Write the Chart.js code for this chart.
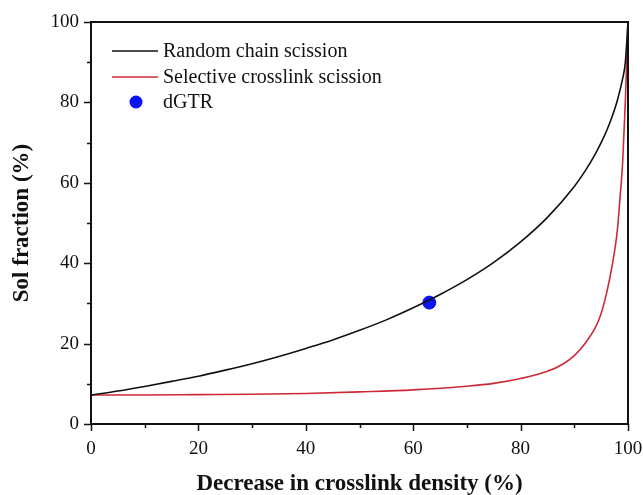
<!DOCTYPE html>
<html>
<head>
<meta charset="utf-8">
<script src="https://cdn.jsdelivr.net/npm/chart.js"></script>
<style>
  html, body { margin: 0; padding: 0; background: #fff; }
  #wrap { width: 643px; height: 495px; }
</style>
</head>
<body>
<div id="wrap"><canvas id="myChart" width="643" height="495"></canvas></div>
<script>
// values
const randomX = [0, 5, 10, 15, 20, 25, 30, 35, 40, 45, 50, 55, 60, 65, 70, 75, 80, 85, 90, 92, 94, 95, 96, 97, 98, 99, 99.5, 100]
const randomY = [7.2, 8.2, 9.35, 10.6, 11.9, 13.4, 15.0, 16.8, 18.8, 20.9, 23.3, 25.9, 28.9, 32.2, 35.9, 40.2, 45.3, 51.4, 59.1, 62.9, 67.4, 70.0, 72.9, 76.3, 80.4, 85.9, 89.9, 100]

const selectiveX = [0, 10, 20, 30, 40, 50, 60, 70, 75, 80, 85, 88, 90, 92, 94, 95, 96, 97, 98, 98.5, 99, 99.5, 100]
const selectiveY = [7.2, 7.2, 7.3, 7.4, 7.6, 8.0, 8.5, 9.4, 10.1, 11.3, 13.1, 15.0, 17.0, 20.0, 24.2, 27.5, 32.5, 39.0, 48.0, 56.0, 65.0, 80.0, 100]

const dgtrX = [63]
const dgtrY = [30.2]

const legendLabels = ["Random chain scission", "Selective crosslink scission", "dGTR"]
const xTitle = "Decrease in crosslink density (%)"
const yTitle = "Sol fraction (%)"

const BLACK = '#111111'
const RED = '#cc2a36'
const BLUE = '#0a14f0'
const FONT = "'Liberation Serif', 'Times New Roman', serif"

const toPoints = (xs, ys) => xs.map((x, i) => ({ x: x, y: ys[i] }))

// box around plot + minor/major ticks outside
const framePlugin = {
  id: 'frame',
  afterDraw(chart) {
    const ctx = chart.ctx
    const a = chart.chartArea
    const xs = chart.scales.x
    const ys = chart.scales.y
    ctx.save()
    ctx.strokeStyle = BLACK
    ctx.lineWidth = 2
    ctx.strokeRect(a.left, a.top, a.right - a.left, a.bottom - a.top)
    ctx.lineWidth = 1.5
    for (let v = 0; v <= 100; v += 10) {
      const len = v % 20 === 0 ? 7 : 4
      const px = Math.round(xs.getPixelForValue(v)) + 0.5
      ctx.beginPath()
      ctx.moveTo(px, a.bottom)
      ctx.lineTo(px, a.bottom + len)
      ctx.stroke()
      const py = Math.round(ys.getPixelForValue(v)) + 0.5
      ctx.beginPath()
      ctx.moveTo(a.left, py)
      ctx.lineTo(a.left - len, py)
      ctx.stroke()
    }
    ctx.restore()
  }
}

// legend in the upper left corner of the plot
const legendPlugin = {
  id: 'cornerLegend',
  afterDraw(chart) {
    const ctx = chart.ctx
    const a = chart.chartArea
    const x0 = a.left + 21
    const x1 = a.left + 67
    const tx = a.left + 72
    const rows = [a.top + 29, a.top + 55, a.top + 80]
    ctx.save()
    ctx.font = "20px " + FONT
    ctx.textBaseline = 'middle'
    ctx.fillStyle = BLACK
    ctx.lineWidth = 1.5
    ctx.strokeStyle = BLACK
    ctx.beginPath(); ctx.moveTo(x0, rows[0]); ctx.lineTo(x1, rows[0]); ctx.stroke()
    ctx.strokeStyle = RED
    ctx.beginPath(); ctx.moveTo(x0, rows[1]); ctx.lineTo(x1, rows[1]); ctx.stroke()
    ctx.fillStyle = BLUE
    ctx.beginPath(); ctx.arc(a.left + 45, rows[2], 6.5, 0, Math.PI * 2); ctx.fill()
    ctx.fillStyle = BLACK
    legendLabels.forEach((t, i) => ctx.fillText(t, tx, rows[i] + 1))
    ctx.restore()
  }
}

const data = {
  datasets: [
    {
      label: legendLabels[0],
      data: toPoints(randomX, randomY),
      showLine: true,
      borderColor: BLACK,
      borderWidth: 1.6,
      pointRadius: 0,
      cubicInterpolationMode: 'monotone'
    },
    {
      label: legendLabels[1],
      data: toPoints(selectiveX, selectiveY),
      showLine: true,
      borderColor: RED,
      borderWidth: 1.6,
      pointRadius: 0,
      cubicInterpolationMode: 'monotone'
    },
    {
      label: legendLabels[2],
      data: toPoints(dgtrX, dgtrY),
      showLine: false,
      backgroundColor: BLUE,
      borderColor: BLUE,
      pointRadius: 6.5,
      pointHoverRadius: 6.5
    }
  ]
}

const config = {
  type: 'scatter',
  data: data,
  options: {
    responsive: false,
    animation: false,
    events: [],
    layout: { padding: { left: 0, top: 22, right: 0, bottom: 0 } },
    plugins: { legend: { display: false }, tooltip: { enabled: false } },
    scales: {
      x: {
        type: 'linear',
        min: 0,
        max: 100,
        afterFit: s => { s.height = 71; s.paddingRight = 15 },
        ticks: { stepSize: 20, color: BLACK, font: { family: FONT, size: 19 }, padding: 7, maxRotation: 0 },
        grid: { display: true, drawOnChartArea: false, drawTicks: true, tickLength: 7, tickColor: 'rgba(0,0,0,0)' },
        border: { display: false },
        title: { display: true, text: xTitle, color: BLACK, font: { family: FONT, size: 23, weight: 'bold' }, padding: { top: 12, bottom: -3 } }
      },
      y: {
        type: 'linear',
        min: 0,
        max: 100,
        afterFit: s => { s.width = 91 },
        ticks: { stepSize: 20, color: BLACK, font: { family: FONT, size: 19 }, padding: 5 },
        grid: { display: true, drawOnChartArea: false, drawTicks: true, tickLength: 7, tickColor: 'rgba(0,0,0,0)' },
        border: { display: false },
        title: { display: true, text: yTitle, color: BLACK, font: { family: FONT, size: 23, weight: 'bold' }, padding: { top: 8, bottom: 2 } }
      }
    }
  },
  plugins: [framePlugin, legendPlugin]
}

const myChart = new Chart(document.getElementById('myChart'), config)
</script>
</body>
</html>
